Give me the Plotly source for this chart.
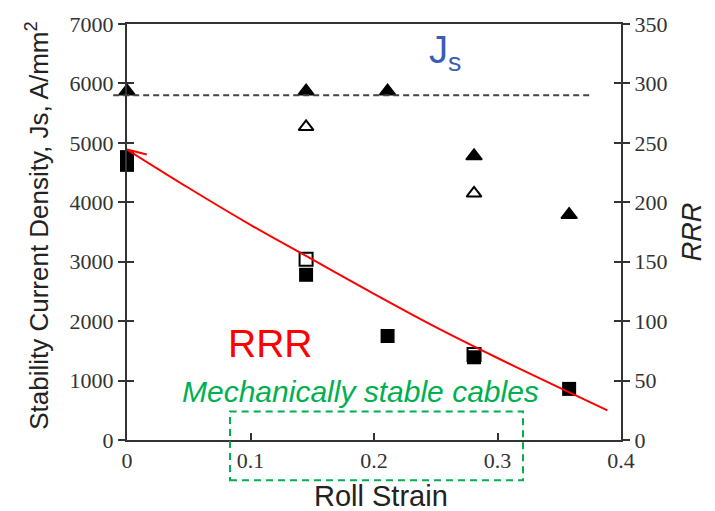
import plotly.graph_objects as go

# ---- data ----
# Js, stability current density (A/mm^2), left axis
js_filled_x = [0.0, 0.145, 0.211, 0.281, 0.358]
js_filled_y = [5870, 5870, 5870, 4780, 3790]
js_open_x = [0.145, 0.281]
js_open_y = [5270, 4150]
js_level = 5800          # dashed reference level

# RRR, right axis
rrr_filled_x = [0.0, 0.0, 0.145, 0.211, 0.281, 0.358]
rrr_filled_y = [238, 231.5, 139, 87.5, 69.6, 43]
rrr_open_x = [0.145, 0.281]
rrr_open_y = [152, 72]

# red RRR trend line (read points)
trend_x = [0.0, 0.05, 0.1, 0.15, 0.2, 0.25, 0.3, 0.35, 0.389]
trend_y = [244.4, 212, 181, 152, 123, 95, 69, 44, 25]
# arrow-head arm at the start of the trend line
arrow_x = [0.016, 0.0]
arrow_y = [240.2, 244.4]

x_ticks = [0, 0.1, 0.2, 0.3, 0.4]
x_tick_text = ["0", "0.1", "0.2", "0.3", "0.4"]
y_ticks = [0, 1000, 2000, 3000, 4000, 5000, 6000, 7000]
y2_ticks = [0, 50, 100, 150, 200, 250, 300, 350]
X_RANGE = [0, 0.4]
Y_RANGE = [0, 7000]
Y2_RANGE = [0, 350]

AX = "#333333"
TICKFONT = dict(family="Liberation Serif", size=22, color="#333333")
SANS = "Liberation Sans, Arial, sans-serif"

fig = go.Figure()

fig.add_trace(go.Scatter(x=rrr_open_x, y=rrr_open_y, mode="markers", yaxis="y2",
                         marker=dict(symbol="square", size=13, color="white",
                                     line=dict(color="black", width=2)),
                         cliponaxis=False, showlegend=False))
fig.add_trace(go.Scatter(x=rrr_filled_x, y=rrr_filled_y, mode="markers", yaxis="y2",
                         marker=dict(symbol="square", size=14, color="black",
                                     line=dict(color="black", width=0)),
                         cliponaxis=False, showlegend=False))
fig.add_trace(go.Scatter(x=js_open_x, y=js_open_y, mode="markers",
                         marker=dict(symbol="triangle-up", size=13, color="white",
                                     line=dict(color="black", width=2)),
                         cliponaxis=False, showlegend=False))
fig.add_trace(go.Scatter(x=js_filled_x, y=js_filled_y, mode="markers",
                         marker=dict(symbol="triangle-up", size=14, color="black",
                                     line=dict(color="black", width=1.5)),
                         cliponaxis=False, showlegend=False))
fig.add_trace(go.Scatter(x=trend_x, y=trend_y, mode="lines", yaxis="y2",
                         line=dict(color="#ff0000", width=2, shape="spline"),
                         showlegend=False))
fig.add_trace(go.Scatter(x=arrow_x, y=arrow_y, mode="lines", yaxis="y2",
                         line=dict(color="#ff0000", width=2),
                         showlegend=False))

# dashed Js level line
fig.add_shape(type="line", xref="paper", yref="paper",
              x0=-0.028, x1=0.937,
              y0=js_level / Y_RANGE[1], y1=js_level / Y_RANGE[1],
              line=dict(color="#444444", width=2, dash="6px,4px"))
# green dashed box
fig.add_shape(type="rect", xref="paper", yref="paper",
              x0=0.2085, x1=0.8016, y0=-0.0967, y1=0.0684,
              line=dict(color="#00b050", width=2, dash="7px,5px"),
              fillcolor="rgba(0,0,0,0)")

fig.update_layout(
    width=715, height=511,
    margin=dict(l=127, r=94, t=16, b=71),
    paper_bgcolor="white", plot_bgcolor="white",
    showlegend=False,
    xaxis=dict(range=X_RANGE, tickvals=x_ticks, ticktext=x_tick_text,
               showgrid=False, zeroline=False, showline=True, linecolor=AX,
               linewidth=2, mirror=True, ticks="inside", ticklen=7, tickwidth=1.5,
               tickcolor=AX, tickfont=TICKFONT),
    yaxis=dict(range=Y_RANGE, tickvals=y_ticks, showgrid=False, zeroline=False,
               showline=True, linecolor=AX, linewidth=2, ticks="outside",
               ticklen=7, tickwidth=1.5, tickcolor=AX, tickfont=TICKFONT),
    yaxis2=dict(range=Y2_RANGE, tickvals=y2_ticks, overlaying="y", side="right",
                showgrid=False, zeroline=False, showline=True, linecolor=AX,
                linewidth=2, ticks="outside", ticklen=7, tickwidth=1.5,
                tickcolor=AX, tickfont=TICKFONT),
    yaxis3=dict(range=Y_RANGE, tickvals=y_ticks, overlaying="y", side="left",
                showgrid=False, zeroline=False, showline=False, ticks="inside",
                ticklen=7, tickwidth=1.5, tickcolor=AX, showticklabels=False),
    yaxis4=dict(range=Y2_RANGE, tickvals=y2_ticks, overlaying="y", side="right",
                showgrid=False, zeroline=False, showline=False, ticks="inside",
                ticklen=7, tickwidth=1.5, tickcolor=AX, showticklabels=False),
)
# invisible traces to activate the overlay tick axes
fig.add_trace(go.Scatter(x=[None], y=[None], yaxis="y3", showlegend=False))
fig.add_trace(go.Scatter(x=[None], y=[None], yaxis="y4", showlegend=False))

annots = [
    dict(text="Stability Current Density, Js, A/mm<sup>2</sup>", x=-0.18, y=0.515,
         textangle=-90, font=dict(family=SANS, size=26, color="#222222")),
    dict(text="<i>RRR</i>", x=1.1437, y=0.502, textangle=-90,
         font=dict(family=SANS, size=27, color="#222222")),
    dict(text="Roll Strain", x=0.514, y=-0.134,
         font=dict(family=SANS, size=29, color="#222222")),
    dict(text="J<sub>s</sub>", x=0.644, y=0.93,
         font=dict(family=SANS, size=38, color="#3a5cb8")),
    dict(text="RRR", x=0.2895, y=0.231,
         font=dict(family=SANS, size=39, color="#ff0000")),
    dict(text="<i>Mechanically stable cables</i>", x=0.4717, y=0.1156,
         font=dict(family=SANS, size=30, color="#00b050")),
]
for a in annots:
    fig.add_annotation(xref="paper", yref="paper", showarrow=False,
                       xanchor="center", yanchor="middle", **a)

fig.write_html("out.html")
